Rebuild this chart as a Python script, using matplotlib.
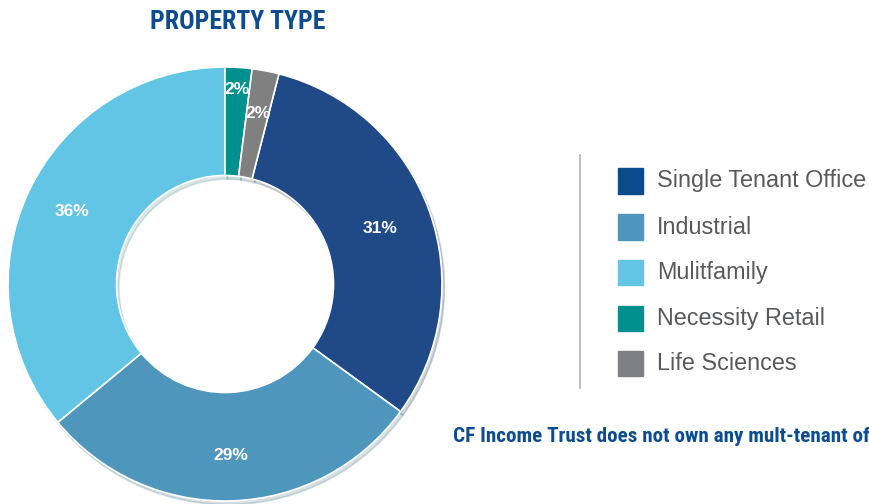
import numpy as np
import matplotlib.pyplot as plt

# dados do grafico (fatias em %)
tipos = ['Single Tenant Office', 'Industrial', 'Mulitfamily', 'Necessity Retail', 'Life Sciences']
valores = [31, 29, 36, 2, 2]
rotulos = ['31%', '29%', '36%', '2%', '2%']
cores = ['#1f4a87', '#4f96bd', '#62c5e5', '#00918f', '#808080']
cores_legenda = ['#0b4a8c', '#4f96bd', '#62c5e5', '#00918f', '#7f8085']
raio_rotulo = [0.76, 0.79, 0.78, 0.90, 0.80]

titulo = 'PROPERTY TYPE'
nota = 'CF Income Trust does not own any mult-tenant of'

azul = '#0d4c8f'
fonte_cond = ['Roboto Condensed', 'DejaVu Sans Condensed', 'Roboto']

fig = plt.figure(figsize=(8.69, 5.04), dpi=100)

W, H = 869, 504
cx, cy, r = 225, 284, 217
ax = fig.add_axes([(cx - r) / W, (H - cy - r) / H, 2 * r / W, 2 * r / H])

inicio = 90 - (valores[3] + valores[4]) * 3.6
fatias, _ = ax.pie(valores, colors=cores, startangle=inicio, counterclock=False,
                   radius=1.0,
                   wedgeprops=dict(width=0.5, edgecolor='white', linewidth=1.2),
                   shadow=dict(ox=0.008, oy=-0.012, shade=0.35, alpha=0.2))
ax.set_xlim(-1, 1)
ax.set_ylim(-1, 1)
ax.set_aspect('equal')
ax.axis('off')

# rotulos de porcentagem
for w, txt, rr in zip(fatias, rotulos, raio_rotulo):
    ang = np.deg2rad((w.theta1 + w.theta2) / 2)
    ax.text(rr * np.cos(ang), rr * np.sin(ang), txt, color='white', fontsize=12.5,
            fontweight='bold', family='Liberation Sans', ha='center', va='center')

# titulo
fig.text(238 / W, 1 - 22 / H, titulo, color=azul, fontsize=18.5, fontweight='bold',
         family=fonte_cond, ha='center', va='center')

# legenda feita a mao
fig.add_artist(plt.Line2D([580 / W, 580 / W], [1 - 155 / H, 1 - 388 / H],
                          color='#b0b0b0', linewidth=1.2))
ys = [181, 227, 272, 318, 363]
for y, nome, c in zip(ys, tipos, cores_legenda):
    fig.add_artist(plt.Rectangle((618 / W, 1 - (y + 12.5) / H), 25 / W, 25 / H,
                                 color=c, transform=fig.transFigure))
    fig.text(657 / W, 1 - y / H, nome, color='#58595b', fontsize=16.8,
             family='Liberation Sans', ha='left', va='center')

# nota de rodape
fig.text(453 / W, 1 - 437 / H, nota, color=azul, fontsize=15.2, fontweight='bold',
         family=fonte_cond, ha='left', va='center')

plt.savefig('out.png', dpi=100)
